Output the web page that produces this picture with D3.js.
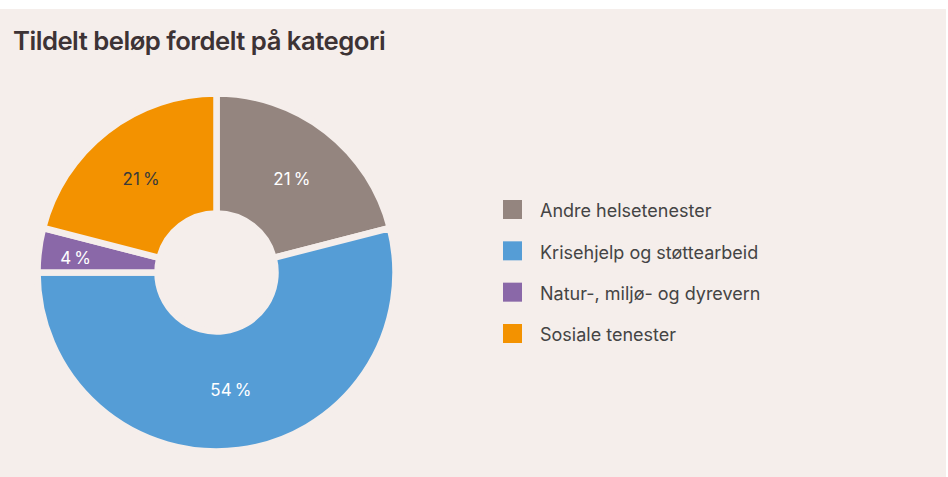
<!DOCTYPE html>
<meta charset="utf-8">
<title>Tildelt beløp fordelt på kategori</title>
<script src="https://d3js.org/d3.v7.min.js"></script>
<style>
  body { margin: 0; background: #fff; }
  text { font-family: Inter, "Liberation Sans", Arial, sans-serif; }
</style>
<div id="chart"></div>
<script>

var categories = ["Andre helsetenester", "Krisehjelp og støttearbeid", "Natur-, miljø- og dyrevern", "Sosiale tenester"];
var shares = [21, 54, 4, 21];
var colors = ["#94857f", "#559dd6", "#8a68a8", "#f39200"];
var labelColors = ["#ffffff", "#ffffff", "#ffffff", "#3a3a3a"];

var W = 948, H = 477, bg = "#f5eeeb";

var svg = d3.select("#chart").append("svg")
    .attr("width", W)
    .attr("height", H);

svg.append("rect")
    .attr("x", 0).attr("y", 9)
    .attr("width", W - 2).attr("height", H - 9)
    .attr("fill", bg);

svg.append("text")
    .attr("x", 13).attr("y", 50)
    .attr("fill", "#3d3335")
    .style("font-size", "25.7px")
    .style("font-weight", "600")
    .style("letter-spacing", "-0.5px")
    .text("Tildelt beløp fordelt på kategori");

var data = categories.map(function(c, i) { return { name: c, value: shares[i], i: i }; });

var pie = d3.pie().sort(null).value(function(d) { return d.value; });
var arcs = pie(data);

var outer = 179, inner = 59;
var arc = d3.arc().innerRadius(inner).outerRadius(outer);

var g = svg.append("g").attr("transform", "translate(216.5,272.5)");

g.selectAll("path.slice")
  .data(arcs)
  .enter()
  .append("path")
    .attr("class", "slice")
    .attr("d", arc)
    .attr("fill", function(d) { return colors[d.data.i]; })
    .attr("stroke", bg)
    .attr("stroke-width", 6.5)
    .attr("stroke-linejoin", "miter");

g.selectAll("text.pct")
  .data(arcs)
  .enter()
  .append("text")
    .attr("class", "pct")
    .attr("transform", function(d) {
      var r = d.data.value < 10 ? 142 : (d.data.value > 50 ? 115 : 123);
      var a = (d.startAngle + d.endAngle) / 2;
      return "translate(" + (r * Math.sin(a)) + "," + (-r * Math.cos(a)) + ")";
    })
    .attr("text-anchor", "middle")
    .attr("dy", "0.55em")
    .attr("fill", function(d) { return labelColors[d.data.i]; })
    .style("font-size", "17px")
    .text(function(d) { return d.data.value + "\u2009%"; });

var legend = svg.append("g").attr("transform", "translate(503,200)");
var rowY = d3.scalePoint().domain(categories).range([0, 124]);

legend.selectAll("rect")
  .data(categories)
  .enter()
  .append("rect")
    .attr("x", 0)
    .attr("y", function(d) { return rowY(d); })
    .attr("width", 19)
    .attr("height", 19)
    .attr("fill", function(d, i) { return colors[i]; });

legend.selectAll("text")
  .data(categories)
  .enter()
  .append("text")
    .attr("x", 37)
    .attr("y", function(d) { return rowY(d) + 11; })
    .attr("dy", "0.35em")
    .attr("fill", "#444")
    .style("font-size", "18px")
    .text(function(d) { return d; });

</script>
